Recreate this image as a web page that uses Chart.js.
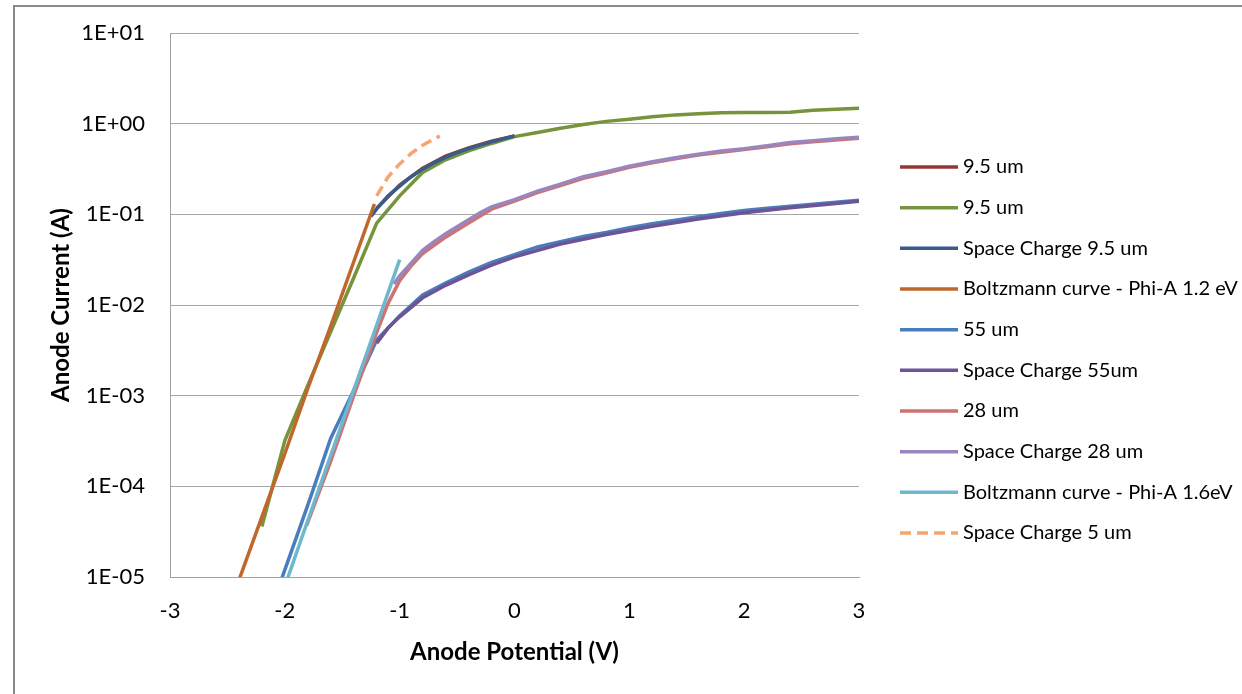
<!DOCTYPE html>
<html>
<head>
<meta charset="utf-8">
<script src="https://cdn.jsdelivr.net/npm/chart.js@4.4.1/dist/chart.umd.min.js"></script>
<style>
  html, body { margin: 0; padding: 0; background: #fff; overflow: hidden; }
  .frame { position: absolute; left: 13px; top: 5px; width: 1400px; height: 900px; border: 2px solid #8a8a8a; }
  #chart { position: absolute; left: 0; top: 0; }
</style>
</head>
<body>
<div class="frame"></div>
<canvas id="chart" width="1242" height="694"></canvas>
<script>
// tick values / labels
const yTicks = [1e-5, 1e-4, 1e-3, 1e-2, 1e-1, 1, 10];
const yTickLabels = ['1E-05', '1E-04', '1E-03', '1E-02', '1E-01', '1E+00', '1E+01'];
const xTickLabels = ['-3', '-2', '-1', '0', '1', '2', '3'];

// 9.5 um (red, mostly hidden)
const xRed = [-1.2, -1.0, -0.8, -0.6, -0.4, -0.2, 0];
const yRed = [0.117, 0.21, 0.322, 0.44, 0.54, 0.64, 0.73];

// 9.5 um (green)
const xGreen = [-2.2, -2.0, -1.8, -1.6, -1.4, -1.2, -1.0, -0.8, -0.6, -0.4, -0.2, 0, 0.2, 0.4, 0.6, 0.8, 1.0, 1.2, 1.4, 1.6, 1.8, 2.0, 2.2, 2.4, 2.6, 2.8, 3.0];
const yGreen = [3.6e-5, 3.2e-4, 1.3e-3, 5.1e-3, 0.020, 0.080, 0.16, 0.29, 0.40, 0.50, 0.605, 0.72, 0.80, 0.89, 0.98, 1.06, 1.12, 1.19, 1.25, 1.29, 1.32, 1.33, 1.33, 1.34, 1.41, 1.44, 1.48];

// Space Charge 9.5 um
const xSc95 = [-1.25, -1.2, -1.1, -1.0, -0.9, -0.8, -0.7, -0.6, -0.5, -0.4, -0.3, -0.2, -0.1, 0];
const ySc95 = [0.095, 0.115, 0.16, 0.205, 0.26, 0.315, 0.37, 0.425, 0.48, 0.53, 0.58, 0.63, 0.68, 0.73];

// Boltzmann curve 1.2 eV
const xB12 = [-2.4, -2.2, -2.0, -1.8, -1.6, -1.4, -1.22];
const yB12 = [9.2e-6, 4.6e-5, 2.3e-4, 1.2e-3, 5.9e-3, 0.030, 0.13];

// 55 um
const x55 = [-2.05, -2.0, -1.8, -1.6, -1.4, -1.2, -1.0, -0.8, -0.6, -0.4, -0.2, 0, 0.2, 0.4, 0.6, 0.8, 1.0, 1.2, 1.4, 1.6, 1.8, 2.0, 2.2, 2.4, 2.6, 2.8, 3.0];
const y55 = [7.9e-6, 1.2e-5, 6.2e-5, 3.4e-4, 1.15e-3, 4.1e-3, 7.6e-3, 0.0129, 0.0174, 0.0230, 0.0295, 0.036, 0.0437, 0.050, 0.057, 0.063, 0.071, 0.079, 0.086, 0.094, 0.102, 0.110, 0.117, 0.123, 0.129, 0.136, 0.143];

// Space Charge 55um
const xSc55 = [-1.2, -1.1, -1.0, -0.8, -0.6, -0.4, -0.2, 0, 0.4, 0.8, 1.2, 1.6, 2.0, 2.4, 2.8, 3.0];
const ySc55 = [0.0038, 0.0056, 0.0074, 0.0120, 0.0165, 0.0215, 0.0275, 0.034, 0.047, 0.060, 0.074, 0.089, 0.104, 0.118, 0.132, 0.139];

// 28 um
const x28 = [-1.81, -1.6, -1.4, -1.2, -1.1, -1.0, -0.9, -0.8, -0.6, -0.4, -0.2, 0, 0.2, 0.4, 0.6, 0.8, 1.0, 1.2, 1.4, 1.6, 1.8, 2.0, 2.2, 2.4, 2.6, 2.8, 3.0];
const y28 = [3.7e-5, 1.9e-4, 1.0e-3, 5.0e-3, 0.0105, 0.0185, 0.027, 0.037, 0.056, 0.080, 0.114, 0.140, 0.174, 0.208, 0.25, 0.285, 0.33, 0.37, 0.41, 0.45, 0.485, 0.52, 0.555, 0.60, 0.63, 0.66, 0.69];

// Space Charge 28 um
const xSc28 = [-1.05, -1.0, -0.9, -0.8, -0.7, -0.6, -0.5, -0.4, -0.3, -0.2, 0, 0.2, 0.4, 0.6, 0.8, 1.0, 1.2, 1.4, 1.6, 1.8, 2.0, 2.2, 2.4, 2.6, 2.8, 3.0];
const ySc28 = [0.017, 0.021, 0.029, 0.040, 0.050, 0.061, 0.073, 0.087, 0.104, 0.121, 0.145, 0.180, 0.215, 0.26, 0.295, 0.34, 0.38, 0.42, 0.46, 0.50, 0.53, 0.57, 0.62, 0.65, 0.68, 0.71];

// Boltzmann curve 1.6 eV
const xB16 = [-2.0, -1.8, -1.6, -1.4, -1.2, -1.0];
const yB16 = [7.9e-6, 4.2e-5, 2.2e-4, 1.15e-3, 6.0e-3, 0.0316];

// Space Charge 5 um (dashed)
const xSc5 = [-1.2, -1.1, -1.0, -0.9, -0.8, -0.7, -0.65];
const ySc5 = [0.16, 0.26, 0.36, 0.47, 0.58, 0.68, 0.73];

const FONT = 'Lato, "Open Sans", sans-serif';

function pts(xs, ys) {
    return xs.map((x, i) => ({x: x, y: ys[i]}));
}

function series(label, xs, ys, color, dash) {
    return {
        label: label,
        data: pts(xs, ys),
        borderColor: color,
        backgroundColor: color,
        borderWidth: 3.5,
        borderDash: dash || [],
        pointRadius: 0,
        showLine: true,
        tension: 0
    };
}

const datasets = [
    series('9.5 um', xRed, yRed, '#953735'),
    series('9.5 um', xGreen, yGreen, '#77933C'),
    series('Space Charge 9.5 um', xSc95, ySc95, '#385D8A'),
    series('Boltzmann curve - Phi-A 1.2 eV', xB12, yB12, '#C0672C'),
    series('55 um', x55, y55, '#4A7DBB'),
    series('Space Charge 55um', xSc55, ySc55, '#6C5497'),
    series('28 um', x28, y28, '#CD7371'),
    series('Space Charge 28 um', xSc28, ySc28, '#9A86BC'),
    series('Boltzmann curve - Phi-A 1.6eV', xB16, yB16, '#6FB7CF'),
    series('Space Charge 5 um', xSc5, ySc5, '#F8A46E', [11, 6])
];
// excel draws first series at the bottom
datasets.forEach((d, i) => { d.order = datasets.length - i; });

// legend drawn at the right, same order as the series list
const sideLegend = {
    id: 'sideLegend',
    afterDraw(chart) {
        const ctx = chart.ctx;
        const top = 167, step = 40.67, x0 = 900, x1 = 958;
        ctx.save();
        ctx.font = '20px ' + FONT;
        ctx.textBaseline = 'middle';
        ctx.textAlign = 'left';
        chart.data.datasets.forEach((ds, i) => {
            const y = top + i * step;
            ctx.beginPath();
            ctx.setLineDash(ds.borderDash);
            ctx.strokeStyle = ds.borderColor;
            ctx.lineWidth = 3.5;
            ctx.moveTo(x0, y);
            ctx.lineTo(x1, y);
            ctx.stroke();
            ctx.setLineDash([]);
            ctx.fillStyle = '#000';
            ctx.fillText(ds.label, x1 + 5, y);
        });
        ctx.restore();
    }
};

new Chart(document.getElementById('chart'), {
    type: 'scatter',
    data: { datasets: datasets },
    plugins: [sideLegend],
    options: {
        responsive: false,
        animation: false,
        layout: { padding: { left: 0, top: 33, right: 383, bottom: 0 } },
        plugins: { legend: { display: false }, tooltip: { enabled: false } },
        scales: {
            x: {
                type: 'linear',
                min: -3,
                max: 3,
                afterFit: (s) => { s.height = 117; },
                ticks: {
                    stepSize: 1,
                    padding: 21,
                    color: '#000',
                    font: { family: FONT, size: 22 },
                    callback: (v, i) => xTickLabels[i]
                },
                grid: { display: false, drawTicks: false },
                border: { display: true, color: '#A0A0A0', width: 1 },
                title: {
                    display: true,
                    text: 'Anode Potential (V)',
                    color: '#000',
                    font: { family: FONT, size: 24, weight: 'bold' },
                    padding: { top: 0, bottom: 27 }
                }
            },
            y: {
                type: 'logarithmic',
                min: 1e-5,
                max: 10,
                afterFit: (s) => { s.width = 170; s.paddingTop = 0; s.paddingBottom = 0; },
                afterBuildTicks: (s) => { s.ticks = yTicks.map(v => ({ value: v })); },
                ticks: {
                    padding: 25,
                    color: '#000',
                    font: { family: FONT, size: 22 },
                    callback: (v, i) => yTickLabels[i]
                },
                grid: { color: '#A6A6A6', lineWidth: 1, drawTicks: false },
                border: { display: true, color: '#A0A0A0', width: 1 },
                title: {
                    display: true,
                    text: 'Anode Current (A)',
                    color: '#000',
                    font: { family: FONT, size: 24, weight: 'bold' },
                    padding: { top: 47, bottom: 0 }
                }
            }
        }
    }
});
</script>
</body>
</html>
